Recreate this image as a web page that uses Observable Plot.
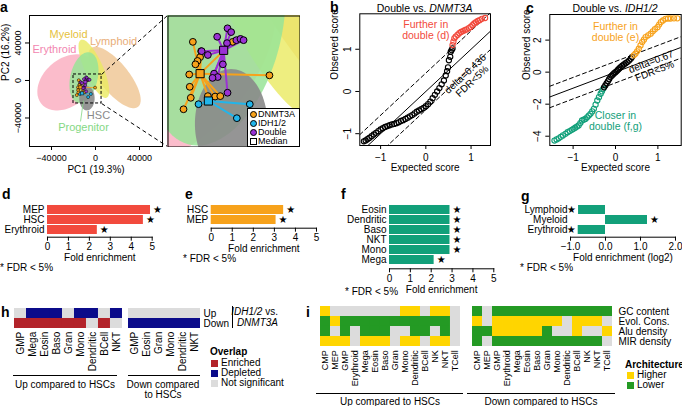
<!DOCTYPE html>
<html><head><meta charset="utf-8">
<script src="https://cdn.jsdelivr.net/npm/d3@7"></script>
<script src="https://cdn.jsdelivr.net/npm/@observablehq/plot@0.6"></script>
<style>
body{margin:0;background:#fff;}
#fig{position:relative;width:682px;height:406px;overflow:hidden;font-family:"Liberation Sans",Arial,Helvetica,sans-serif;color:#000;background:#fff}
.abs{position:absolute;white-space:nowrap;line-height:1}
#fig svg{overflow:hidden}
</style></head><body><div id="fig"></div>
<script>
// ---------------- DATA ----------------
// panel a: density ellipses (data units)
const ellipseNames = ["Erythroid","Lymphoid","Myeloid","Progenitor","HSC"];
const ellipseCx = [-26000, 17300, -1500, -10500, -7800];
const ellipseCy = [-2000, 3200, 12500, 3000, -19000];
const ellipseA = [33000, 38000, 33000, 27500, 12900];
const ellipseB = [23000, 14000, 8500, 12500, 7000];
const ellipseAngle = [54, -57, -69.7, 80, 90];
const ellipseColors = ["#fab0c2","#f0c898","#eaea60","#98e498","#8a8a8a"];
const ellipseOpacity = [0.85,0.85,0.8,0.85,0.9];
// panel a: samples
const dnmtX = [-15200,-13600,-13800,-14300,-14700,-15900,-15800,-15600,-17000,-12300,-10900,-9900,-400,-7500];
const dnmtY = [300,-1900,-3300,-4200,-5000,-7400,-10300,-12900,-15600,-12500,-12600,-12500,-7600,300];
const dnmtMed = [-13800,-7200];
const idhX = [-14100,-6700,-4200];
const idhY = [-14400,-17700,-14400];
const idhMed = [-12200,-13650];
const dblX = [-10500,-8500,-7800,-8600,-6800,-13500,-12300,-9400,-11100,-10400,-11400,-8500,-6000,-5400];
const dblY = [1500,3500,2600,0,700,-1900,-2800,-5000,-7200,-8000,-8200,-11700,1000,700];
const dblMed = [-9250,-1700];
const zoomBoxX = [-20000, 5500];
const zoomBoxY = [-24500, 6400];
// panel b: QQ plot Double vs DNMT3A
const bBlackX = [-1.37,-1.33,-1.29,-1.25,-1.2,-1.15,-1.1,-1.05,-1.0,-0.95,-0.9,-0.85,-0.8,-0.75,-0.7,-0.65,-0.6,-0.55,-0.5,-0.45,-0.4,-0.35,-0.3,-0.25,-0.2,-0.15,-0.1,-0.05,0,0.05,0.1,0.15,0.2,0.25,0.3,0.35,0.4,0.44,0.47,0.49,0.51,0.54,0.55,0.57,0.59];
const bBlackY = [-1.18,-1.16,-1.13,-1.10,-1.06,-1.02,-0.98,-0.94,-0.90,-0.87,-0.84,-0.82,-0.80,-0.78,-0.77,-0.75,-0.73,-0.70,-0.68,-0.65,-0.62,-0.59,-0.56,-0.52,-0.48,-0.45,-0.42,-0.39,-0.35,-0.30,-0.24,-0.16,-0.08,0.0,0.08,0.17,0.26,0.38,0.48,0.57,0.74,0.82,0.94,0.98,1.02];
const bRedX = [0.59,0.61,0.63,0.66,0.70,0.74,0.78,0.82,0.86,0.90,0.95,0.99,1.03,1.07,1.11,1.15,1.19,1.24,1.31];
const bRedY = [1.10,1.18,1.26,1.30,1.34,1.38,1.41,1.43,1.45,1.47,1.50,1.53,1.57,1.61,1.64,1.67,1.69,1.72,1.74];
const bDelta = 0.436;
// panel c: QQ plot Double vs IDH1/2
const cGreenX = [-1.44,-1.39,-1.34,-1.29,-1.24,-1.18,-1.13,-1.08,-1.03,-0.99,-0.95,-0.91,-0.87,-0.83,-0.79,-0.75,-0.71,-0.67,-0.63,-0.59,-0.55,-0.51,-0.47,-0.43,-0.39,-0.35,-0.32,-0.29];
const cGreenY = [-4.27,-4.20,-4.13,-4.04,-3.95,-3.85,-3.75,-3.68,-3.60,-3.54,-3.47,-3.40,-3.33,-3.18,-3.02,-2.97,-2.92,-2.82,-2.71,-2.60,-2.45,-2.29,-2.03,-1.77,-1.56,-1.35,-1.20,-1.04];
const cBlackX = [-0.27,-0.24,-0.21,-0.18,-0.15,-0.12,-0.09,-0.06,-0.03,0,0.03,0.06,0.09,0.12,0.16,0.20,0.24,0.28,0.32,0.36,0.39];
const cBlackY = [-0.95,-0.83,-0.70,-0.57,-0.44,-0.31,-0.22,-0.14,-0.07,0,0.07,0.15,0.23,0.31,0.40,0.48,0.56,0.63,0.72,0.83,0.94];
const cOrangeX = [0.43,0.47,0.51,0.55,0.59,0.63,0.67,0.71,0.77,0.83,0.88,0.93,0.99,1.03,1.07,1.12,1.18,1.24,1.30,1.38,1.46];
const cOrangeY = [1.05,1.15,1.30,1.46,1.67,1.88,2.03,2.19,2.30,2.40,2.55,2.68,2.81,2.97,3.13,3.23,3.33,3.35,3.35,3.36,3.36];
const cDelta = 0.67;
// panels d-g: fold enrichment
const dCats = ["MEP","HSC","Erythroid"];
const dVals = [4.92, 4.58, 2.38];
const dSig = [true, true, true];
const eCats = ["HSC","MEP"];
const eVals = [3.44, 3.08];
const eSig = [true, true];
const fCats = ["Eosin","Dendritic","Baso","NKT","Mono","Mega"];
const fVals = [2.9, 2.9, 2.9, 2.9, 2.9, 2.14];
const fSig = [true, true, true, true, true, true];
const gCats = ["Lymphoid","Myeloid","Erythroid"];
const gVals = [-0.77, 1.2, -0.78];
const gSig = [true, true, true];
// panel h: overlap heatmap (E enriched, D depleted, N not significant)
const hRows = ["Up","Down"];
const hUpCols = ["GMP","Mega","Eosin","Baso","Gran","Mono","Dendritic","BCell","NKT"];
const hUpGrid = ["NDDDNDDND","EEEEEENEN"];
const hDownCols = ["GMP","Eosin","Gran","Mono","Dendritic","NKT"];
const hDownGrid = ["NNNNNN","DDDDDD"];
const hCodes = {E:"Enriched", D:"Depleted", N:"Not significant"};
// panel i: architecture heatmap (H higher, L lower, N not significant)
const iRows = ["GC content","Evol. Cons.","Alu density","MIR density"];
const iCols = ["CMP","MEP","GMP","Erythroid","Mega","Eosin","Baso","Gran","Mono","Dendritic","BCell","NK","NKT","TCell"];
const iUpGrid = ["HNNNNNNNHHNHHN","LHLLLLLLLLLLLN","LNLNLLLNNLLNLN","HHHNHHHNHHNHHN"];
const iDownGrid = ["LNLLLLLLLLLLLL","HNHHHHHHHNHHHN","LLHHHHHLNNHNNH","LNLLLLLLLLLLLN"];
const iCodes = {H:"Higher", L:"Lower", N:"NS"};

// ---------------- STYLE ----------------
const FONT = '"Liberation Sans", Arial, Helvetica, sans-serif';
const C = {orange:"#f7a21b", blue:"#22b5ea", purple:"#9a32d4", red:"#f24a3d", green:"#12a07a",
  hRed:"#b3232a", hBlue:"#0b0b8a", grey:"#dcdcdc", iYellow:"#ffd500", iGreen:"#249a24"};
const st = (fs=10) => ({fontFamily: FONT, fontSize: fs+"px", background: "none", color: "#000", overflow: "hidden"});
const minus = d => (d < 0 ? "\u2212" : "") + Math.abs(d);
const fig = document.getElementById("fig");
function place(node, left, top) {
  node.style.position = "absolute"; node.style.left = left + "px"; node.style.top = top + "px";
  fig.appendChild(node); return node;
}
function label(html, x, y, o = {}) {
  const d = document.createElement("div");
  d.className = "abs"; d.innerHTML = html;
  d.style.fontSize = (o.size || 10) + "px";
  d.style.fontWeight = o.weight || "normal";
  d.style.color = o.color || "#000";
  d.style.fontStyle = o.italic ? "italic" : "normal";
  if (o.lh) d.style.lineHeight = o.lh;
  if (o.align) d.style.textAlign = o.align;
  const a = o.anchor || "start";
  const tx = a === "start" ? "0" : a === "middle" ? "-50%" : "-100%";
  d.style.left = x + "px"; d.style.top = y + "px";
  d.style.transform = `translate(${tx},-50%)`;
  fig.appendChild(d); return d;
}
function hline(x1, x2, y) {
  const d = document.createElement("div");
  d.style.cssText = `position:absolute;left:${x1}px;top:${y}px;width:${x2-x1}px;height:0;border-top:1px solid #000`;
  fig.appendChild(d);
}
function vline(x, y1, y2) {
  const d = document.createElement("div");
  d.style.cssText = `position:absolute;left:${x}px;top:${y1}px;width:0;height:${y2-y1}px;border-left:1px solid #000`;
  fig.appendChild(d);
}
function swatch(x, y, color, round) {
  const d = document.createElement("div");
  d.style.cssText = `position:absolute;left:${x}px;top:${y-3.5}px;width:7px;height:7px;background:${color};` +
    (round ? "border-radius:50%;box-sizing:border-box;border:1px solid #000;" : "");
  fig.appendChild(d);
}
// R-style rotated y axis (ticks outside, labels reading upward)
const rAxisY = ticks => Plot.axisY(ticks, {tickSize: 4, tickRotate: -90, tickPadding: 5,
  textAnchor: "middle", lineAnchor: "bottom", tickFormat: minus, label: null});

// ---------------- PANEL a ----------------
function ellipsePts(i) {
  const th = ellipseAngle[i] * Math.PI / 180, pts = [];
  for (let k = 0; k <= 90; k++) {
    const t = k / 90 * 2 * Math.PI;
    pts.push({x: ellipseCx[i] + ellipseA[i] * Math.cos(t) * Math.cos(th) - ellipseB[i] * Math.sin(t) * Math.sin(th),
              y: ellipseCy[i] + ellipseA[i] * Math.cos(t) * Math.sin(th) + ellipseB[i] * Math.sin(t) * Math.cos(th)});
  }
  return pts;
}
const ellipseMarks = () => ellipseNames.map((n, i) => Plot.line(ellipsePts(i),
  {x: "x", y: "y", fill: ellipseColors[i], fillOpacity: ellipseOpacity[i], stroke: "none", curve: "linear-closed"}));
const groups = [
  {xs: dnmtX, ys: dnmtY, med: dnmtMed, color: C.orange},
  {xs: idhX, ys: idhY, med: idhMed, color: C.blue},
  {xs: dblX, ys: dblY, med: dblMed, color: C.purple}];
const pts = groups.flatMap(g => g.xs.map((x, i) => ({x, y: g.ys[i], mx: g.med[0], my: g.med[1], color: g.color})));
const meds = groups.map(g => ({x: g.med[0], y: g.med[1], color: g.color}));

const aXdom = [-60000, 60900], aYdom = [-70400, 69300];
const aML = 29, aMR = 5, aMT = 15, aFW = 133, aFH = 131;
const pxX = (aXdom[1] - aXdom[0]) / aFW;   // data per pixel
const connectorX = aXdom[1] + aMR * pxX;     // left edge of inset, in data units
const connectors = [
  {x1: zoomBoxX[1], y1: zoomBoxY[1], x2: connectorX, y2: aYdom[1]},
  {x1: zoomBoxX[1], y1: zoomBoxY[0], x2: connectorX, y2: aYdom[0]}];

place(Plot.plot({
  width: aML + aFW + aMR, height: 180, marginLeft: aML, marginRight: aMR, marginTop: aMT, marginBottom: 180 - aMT - aFH,
  x: {domain: aXdom}, y: {domain: aYdom}, style: st(9),
  marks: [
    ...ellipseMarks(),
    Plot.link([{x1: -13600, y1: -43700, x2: -11000, y2: -21500}], {x1: "x1", y1: "y1", x2: "x2", y2: "y2", stroke: "#84d884", strokeWidth: 0.8}),
    Plot.link(pts, {x1: "mx", y1: "my", x2: "x", y2: "y", stroke: d => d.color, strokeWidth: 0.8}),
    Plot.dot(pts, {x: "x", y: "y", r: 1.5, fill: d => d.color, stroke: "#000", strokeWidth: 0.5}),
    Plot.dot(meds, {x: "x", y: "y", r: 1.8, symbol: "square", fill: d => d.color, stroke: "#000", strokeWidth: 0.5}),
    Plot.rect([0], {x1: () => zoomBoxX[0], x2: () => zoomBoxX[1], y1: () => zoomBoxY[0], y2: () => zoomBoxY[1],
      fill: "none", stroke: "#000", strokeDasharray: "3,2"}),
    Plot.link(connectors, {x1: "x1", y1: "y1", x2: "x2", y2: "y2", stroke: "#000", strokeDasharray: "4,3"}),
    Plot.text([{x: -24500, y: 49000, t: "Myeloid", c: "#e6c23c"}, {x: 16400, y: 41600, t: "Lymphoid", c: "#e8ad78"},
      {x: -37300, y: 33000, t: "Erythroid", c: "#f286b0"}, {x: 2700, y: -37300, t: "HSC", c: "#8a8a8a"},
      {x: -10900, y: -50100, t: "Progenitor", c: "#84d884"}],
      {x: "x", y: "y", text: "t", fill: d => d.c, fontSize: 11}),
    Plot.frame({stroke: "#000"}),
    Plot.axisX([-40000, 0, 40000], {tickSize: 4, tickPadding: 4, tickFormat: minus, label: null}),
    rAxisY([-40000, 0, 40000]),
    Plot.text(["PC1 (19.3%)"], {frameAnchor: "bottom", dy: 26, fontSize: 10}),
    Plot.text(["PC2 (16.2%)"], {frameAnchor: "left", rotate: -90, dx: -23.5, fontSize: 10})
  ]
}), 0, 0);

// inset
place(Plot.plot({
  width: 133, height: 132, margin: 0.5,
  x: {domain: zoomBoxX}, y: {domain: zoomBoxY}, style: st(9),
  marks: [
    ...ellipseMarks(),
    Plot.link(pts, {x1: "mx", y1: "my", x2: "x", y2: "y", stroke: d => d.color, strokeWidth: 2}),
    Plot.dot(pts, {x: "x", y: "y", r: 3.4, fill: d => d.color, stroke: "#000", strokeWidth: 1}),
    Plot.dot(meds, {x: "x", y: "y", r: 4.6, symbol: "square", fill: d => d.color, stroke: "#000", strokeWidth: 1}),
    Plot.frame({stroke: "#000"})
  ]
}), 166.5, 14.5);
// inset legend
(() => {
  const box = document.createElement("div");
  box.style.cssText = "position:absolute;left:247px;top:108px;width:51px;height:37px;background:#fff;border:1px solid #000;";
  fig.appendChild(box);
  const items = [["DNMT3A", C.orange, true], ["IDH1/2", C.blue, true], ["Double", C.purple, true], ["Median", "#fff", false]];
  items.forEach(([t, c, round], i) => {
    const y = 114 + i * 9.1;
    if (round) swatch(249.5, y, c, true);
    else { const s = document.createElement("div");
      s.style.cssText = `position:absolute;left:249.5px;top:${y-3.5}px;width:7px;height:7px;box-sizing:border-box;border:1px solid #000;background:#fff`;
      fig.appendChild(s); }
    label(t, 258, y, {size: 9});
  });
})();

// ---------------- PANELS b, c ----------------
function qqPanel({left, fw, fh, mt, ml, mr, xdom, ydom, xticks, yticks, groupsQ, delta, note, titleDx}) {
  const line = k => [{x: xdom[0], y: xdom[0] + k}, {x: xdom[1], y: xdom[1] + k}];
  return place(Plot.plot({
    width: ml + fw + mr, height: 180, marginLeft: ml, marginRight: mr, marginTop: mt, marginBottom: 180 - mt - fh,
    x: {domain: xdom}, y: {domain: ydom}, style: st(10),
    marks: [
      Plot.line(line(0), {x: "x", y: "y", stroke: "#000", strokeWidth: 1, clip: true}),
      Plot.line(line(delta), {x: "x", y: "y", stroke: "#000", strokeWidth: 1, strokeDasharray: "4,3", clip: true}),
      Plot.line(line(-delta), {x: "x", y: "y", stroke: "#000", strokeWidth: 1, strokeDasharray: "4,3", clip: true}),
      ...groupsQ.map(g => Plot.dot(g.xs.map((x, i) => ({x, y: g.ys[i]})),
        {x: "x", y: "y", r: 2.6, stroke: g.color, strokeWidth: 1.1, fill: "none"})),
      ...note,
      Plot.frame({stroke: "#000"}),
      Plot.axisX(xticks, {tickSize: 4, tickPadding: 4, tickFormat: minus, label: null}),
      rAxisY(yticks),
      Plot.text(["Expected score"], {frameAnchor: "bottom", dy: 25}),
      Plot.text(["Observed score"], {frameAnchor: "left", rotate: -90, dx: titleDx})
    ]
  }), left, 0);
}
qqPanel({left: 330, ml: 29.3, fw: 130.7, mr: 4, mt: 13.3, fh: 131.7, xdom: [-1.46, 1.43], ydom: [-1.28, 1.84],
  xticks: [-1, 0, 1], yticks: [-1, 0, 1], delta: bDelta, titleDx: -25,
  groupsQ: [{xs: bBlackX, ys: bBlackY, color: "#000"}, {xs: bRedX, ys: bRedY, color: C.red}],
  note: [
    Plot.text([{x: 0, y: 1.45}], {x: "x", y: "y", text: () => "Further in\ndouble (d)", fill: C.red, fontSize: 10.5, lineHeight: 1.05}),
    Plot.text([{x: 0.95, y: 0.33}], {x: "x", y: "y", text: () => "delta=" + bDelta + "\nFDR<5%", rotate: -43, fontSize: 10, lineHeight: 1.0})
  ]});
qqPanel({left: 520, ml: 29.3, fw: 131.4, mr: 1.3, mt: 14, fh: 131, xdom: [-1.55, 1.55], ydom: [-4.58, 3.6],
  xticks: [-1, 0, 1], yticks: [-4, -2, 0, 2], delta: cDelta, titleDx: -23,
  groupsQ: [{xs: cGreenX, ys: cGreenY, color: C.green}, {xs: cBlackX, ys: cBlackY, color: "#000"}, {xs: cOrangeX, ys: cOrangeY, color: C.orange}],
  note: [
    Plot.text([{x: 0, y: 2.48}], {x: "x", y: "y", text: () => "Further in\ndouble (e)", fill: C.orange, fontSize: 10.5, lineHeight: 1.05}),
    Plot.text([{x: 0, y: -3.07}], {x: "x", y: "y", text: () => "Closer in\ndouble (f,g)", fill: C.green, fontSize: 10.5, lineHeight: 1.05}),
    Plot.text([{x: 0.88, y: 0.35}], {x: "x", y: "y", text: () => "delta=" + cDelta + "\nFDR<5%", rotate: -21, fontSize: 10, lineHeight: 1.0})
  ]});
label("Double vs. <i>DNMT3A</i>", 424.6, 7.5, {anchor: "middle", size: 10.5});
label("Double vs. <i>IDH1/2</i>", 615, 7.5, {anchor: "middle", size: 10.5});

// ---------------- PANELS d-g ----------------
function barChart({cats, vals, sig, color, xDomain, xTicks, fmt, left, ml, fw, mr, axisY, xLabel}) {
  const top = 190, mt = 13.1, step = 10.2;
  const fh = axisY - top - mt;
  const insetBottom = fh - step * (cats.length + 0.15);
  const data = cats.map((c, i) => ({c, v: vals[i], s: sig[i]}));
  return place(Plot.plot({
    width: ml + fw + mr, height: mt + fh + 32, marginLeft: ml, marginRight: mr, marginTop: mt, marginBottom: 32,
    x: {domain: xDomain}, y: {domain: cats, padding: 0.15, insetBottom}, style: st(10),
    marks: [
      Plot.barX(data, {x: "v", y: "c", fill: color}),
      Plot.text(data.filter(d => d.s && d.v >= 0), {x: "v", y: "c", text: () => "\u2605", dx: 7, fontSize: 10, fontFamily: "DejaVu Sans"}),
      Plot.text(data.filter(d => d.s && d.v < 0), {x: "v", y: "c", text: () => "\u2605", dx: -7, fontSize: 10, fontFamily: "DejaVu Sans"}),
      Plot.frame({anchor: "bottom", stroke: "#000"}),
      Plot.axisX(xTicks, {tickSize: 4, tickPadding: 2, tickFormat: fmt, label: null}),
      Plot.axisY({tickSize: 0, tickPadding: 3, label: null}),
      Plot.text([xLabel], {frameAnchor: "bottom", dy: 24})
    ]
  }), left, top);
}
barChart({cats: dCats, vals: dVals, sig: dSig, color: C.red, xDomain: [0, 5], xTicks: [0,1,2,3,4,5], fmt: d => d,
  left: 0, ml: 47, fw: 104.7, mr: 14, axisY: 236.7, xLabel: "Fold enrichment"});
barChart({cats: eCats, vals: eVals, sig: eSig, color: C.orange, xDomain: [0, 5], xTicks: [0,1,2,3,4,5], fmt: d => d,
  left: 183, ml: 27.7, fw: 105.3, mr: 12, axisY: 227.7, xLabel: "Fold enrichment"});
barChart({cats: fCats, vals: fVals, sig: fSig, color: C.green, xDomain: [0, 5], xTicks: [0,1,2,3,4,5], fmt: d => d,
  left: 335, ml: 54, fw: 104.3, mr: 12, axisY: 268.3, xLabel: "Fold enrichment"});
barChart({cats: gCats, vals: gVals, sig: gSig, color: C.green, xDomain: [-1, 2], xTicks: [-1,0,1,2],
  fmt: d => (d < 0 ? "\u2212" : "") + Math.abs(d).toFixed(1),
  left: 510, ml: 60, fw: 105, mr: 7, axisY: 236.7, xLabel: "Fold enrichment (log2)"});
label("* FDR &lt; 5%", 0, 268);
label("* FDR &lt; 5%", 183, 259);
label("* FDR &lt; 5%", 345, 291.5);
label("* FDR &lt; 5%", 520, 268);

// ---------------- PANELS h, i ----------------
function heatmap({cols, rows, grid, codes, domain, range, left, top, ml, fw, mr, mt, fh, mb, fs, rowAxis}) {
  const data = grid.flatMap((s, r) => cols.map((c, j) => ({col: c, row: rows[r], cat: codes[s[j]]})));
  return place(Plot.plot({
    width: ml + fw + mr, height: mt + fh + mb, marginLeft: ml, marginRight: mr, marginTop: mt, marginBottom: mb,
    x: {domain: cols, padding: 0}, y: {domain: rows, padding: 0},
    color: {domain, range}, style: st(fs),
    marks: [
      Plot.cell(data, {x: "col", y: "row", fill: "cat", inset: 0}),
      Plot.axisX({tickRotate: -90, tickSize: 0, tickPadding: 3, label: null}),
      rowAxis ? Plot.axisY({anchor: "right", tickSize: 0, tickPadding: 3, label: null, fontSize: 10})
              : Plot.axisY({ticks: [], label: null})
    ]
  }), left, top);
}
const hDom = ["Enriched","Depleted","Not significant"], hRange = [C.hRed, C.hBlue, C.grey];
heatmap({cols: hUpCols, rows: hRows, grid: hUpGrid, codes: hCodes, domain: hDom, range: hRange,
  left: 0, top: 290, ml: 13.3, fw: 109.4, mr: 1, mt: 16.7, fh: 21.6, mb: 50, fs: 10});
heatmap({cols: hDownCols, rows: hRows, grid: hDownGrid, codes: hCodes, domain: hDom, range: hRange,
  left: 127, top: 290, ml: 0.7, fw: 72.3, mr: 32, mt: 16.7, fh: 21.6, mb: 50, fs: 10, rowAxis: true});
const iDom = ["Higher","Lower","NS"], iRange = [C.iYellow, C.iGreen, C.grey];
heatmap({cols: iCols, rows: iRows, grid: iUpGrid, codes: iCodes, domain: iDom, range: iRange,
  left: 310, top: 290, ml: 7.3, fw: 145.4, mr: 1, mt: 15.7, fh: 41, mb: 45, fs: 9});
heatmap({cols: iCols, rows: iRows, grid: iDownGrid, codes: iCodes, domain: iDom, range: iRange,
  left: 466, top: 290, ml: 2.3, fw: 146.7, mr: 67, mt: 15.7, fh: 41, mb: 45, fs: 9, rowAxis: true});

// group brackets
hline(13.3, 116.7, 375); hline(127.7, 200, 375);
label("Up compared to HSCs", 65, 385, {anchor: "middle"});
label("Down compared<br>to HSCs", 163, 390, {anchor: "middle", lh: 1.0, align: "center"});
hline(316, 463.3, 392.7); hline(466.7, 615, 392.7);
label("Up compared to HSCs", 390, 401.7, {anchor: "middle"});
label("Down compared to HSCs", 541, 401.7, {anchor: "middle"});
// h annotation
vline(232.3, 306, 328);
label("<i>IDH1/2</i> vs.", 278, 311.5, {anchor: "end"});
label("<i>DNMT3A</i>", 278, 323, {anchor: "end"});
// legends
label("Overlap", 210, 351.7, {weight: "bold"});
[["Enriched", C.hRed], ["Depleted", C.hBlue], ["Not significant", C.grey]].forEach(([t, c], i) => {
  swatch(211, 363.3 + i * 10, c); label(t, 221, 363.3 + i * 10);
});
label("Architecture", 625, 365, {weight: "bold"});
[["Higher", C.iYellow], ["Lower", C.iGreen]].forEach(([t, c], i) => {
  swatch(627, 375 + i * 10, c); label(t, 637, 375 + i * 10);
});

// panel letters
[["a", 0, 7], ["b", 330, 7], ["c", 526, 8], ["d", 2, 194], ["e", 185, 194], ["f", 341, 194], ["g", 521, 196],
 ["h", 1, 312], ["i", 306, 312]].forEach(([t, x, y]) => label(t, x, y, {size: 14, weight: "bold"}));
</script></body></html>
